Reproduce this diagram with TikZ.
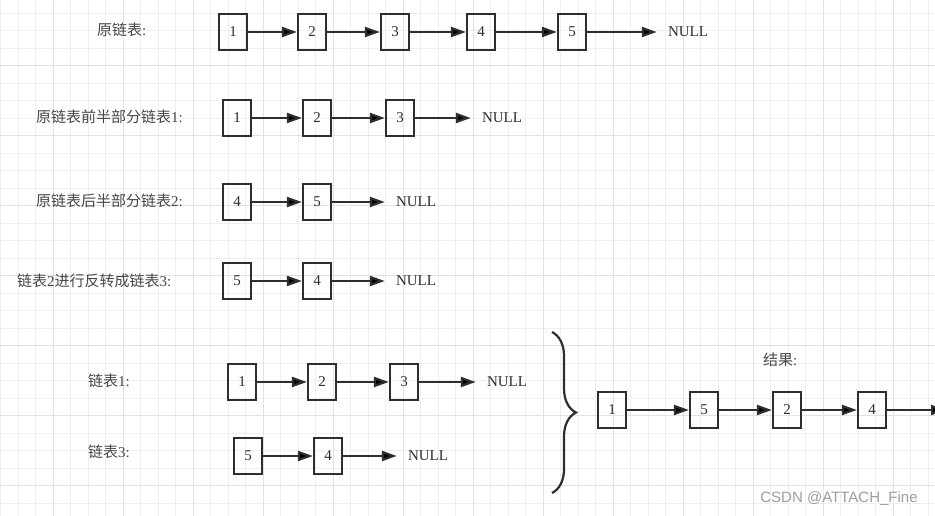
\documentclass[tikz,border=0pt]{standalone}
\usepackage{fontspec}
\setmainfont{Liberation Serif}
\newfontfamily\cjk{Noto Sans CJK SC}
\newfontfamily\wmark{Liberation Sans}
\usetikzlibrary{arrows.meta,decorations.pathreplacing}
\definecolor{ink}{HTML}{2E2E2E}
\definecolor{gridminor}{HTML}{EFEFEF}
\definecolor{gridmajor}{HTML}{E2E2E2}

\begin{document}
\begin{tikzpicture}[x=1pt,y=-1pt,>={Triangle[length=15pt,width=10pt]},font=\fontsize{15}{18}\selectfont,text=ink]
        \tikzstyle{cell}=[rectangle,draw=ink,line width=2.2pt,minimum width=28pt,minimum height=36pt,inner sep=0pt]
        \tikzstyle{nil}=[inner xsep=11pt,inner ysep=0pt]
        \tikzstyle{rowtext}=[anchor=west,inner sep=0pt,text=black!72]
        \tikzstyle{link}=[draw=ink,line width=2.2pt,->]
        \useasboundingbox (0,0) rectangle (935,516);
        \clip (0,0) rectangle (935,516);
        % grid paper
        \fill[white] (0,0) rectangle (935,516);
        \foreach \i in {0,...,53} \draw[gridminor,line width=1pt] ({0.8+17.5*\i},0) -- ({0.8+17.5*\i},516);
        \foreach \j in {0,...,30} \draw[gridminor,line width=1pt] (0,{-4.3+17.5*\j}) -- (935,{-4.3+17.5*\j});
        \foreach \i in {0,...,14} \draw[gridmajor,line width=1pt] ({-16.7+70*\i},0) -- ({-16.7+70*\i},516);
        \foreach \j in {0,...,8} \draw[gridmajor,line width=1pt] (0,{-4.3+70*\j}) -- (935,{-4.3+70*\j});
       \begin{scope}
         % original list
         \node [rowtext] (t1) at (97,30) {{\cjk 原链表}:};
         \node [cell] (a1) at (233,32) {1};
         \node [cell] (a2) at (312,32) {2};
         \node [cell] (a3) at (395,32) {3};
         \node [cell] (a4) at (481,32) {4};
         \node [cell] (a5) at (572,32) {5};
         \node [nil] (an) at (688,32) {NULL};
         \path[link] (a1) edge (a2) (a2) edge (a3) (a3) edge (a4) (a4) edge (a5) (a5) edge (an);
         % first half
         \node [rowtext] (t2) at (36,117) {{\cjk 原链表前半部分链表}1:};
         \node [cell] (b1) at (237,118) {1};
         \node [cell] (b2) at (317,118) {2};
         \node [cell] (b3) at (400,118) {3};
         \node [nil] (bn) at (502,118) {NULL};
         \path[link] (b1) edge (b2) (b2) edge (b3) (b3) edge (bn);
         % second half
         \node [rowtext] (t3) at (36,201) {{\cjk 原链表后半部分链表}2:};
         \node [cell] (c1) at (237,202) {4};
         \node [cell] (c2) at (317,202) {5};
         \node [nil] (cn) at (416,202) {NULL};
         \path[link] (c1) edge (c2) (c2) edge (cn);
         % reversed
         \node [rowtext] (t4) at (17,281) {{\cjk 链表}2{\cjk 进行反转成链表}3:};
         \node [cell] (d1) at (237,281) {5};
         \node [cell] (d2) at (317,281) {4};
         \node [nil] (dn) at (416,281) {NULL};
         \path[link] (d1) edge (d2) (d2) edge (dn);
        \end{scope}
       \begin{scope}
         % merge
         \node [rowtext] (t5) at (88,381) {{\cjk 链表}1:};
         \node [cell] (e1) at (242,382) {1};
         \node [cell] (e2) at (322,382) {2};
         \node [cell] (e3) at (404,382) {3};
         \node [nil] (en) at (507,382) {NULL};
         \path[link] (e1) edge (e2) (e2) edge (e3) (e3) edge (en);
         \node [rowtext] (t6) at (88,452) {{\cjk 链表}3:};
         \node [cell] (f1) at (248,456) {5};
         \node [cell] (f2) at (328,456) {4};
         \node [nil] (fn) at (428,456) {NULL};
         \path[link] (f1) edge (f2) (f2) edge (fn);
         \coordinate (btop) at (552,332);
         \coordinate (bbot) at (552,493);
         \draw[ink,line width=2.2pt,decorate,decoration={brace,amplitude=24pt}] (btop) -- (bbot);
         % result
         \node [rowtext] (t7) at (763,360) {{\cjk 结果}:};
         \node [cell] (r1) at (612,410) {1};
         \node [cell] (r2) at (704,410) {5};
         \node [cell] (r3) at (787,410) {2};
         \node [cell] (r4) at (872,410) {4};
         \coordinate (rend) at (946,410);
         \path[link] (r1) edge (r2) (r2) edge (r3) (r3) edge (r4) (r4) edge (rend);
        \end{scope}
        \node [text=black!38,font=\wmark\fontsize{15}{18}\selectfont] (wm) at (839,499) {CSDN @ATTACH\_Fine};
      \end{tikzpicture}
\end{document}
